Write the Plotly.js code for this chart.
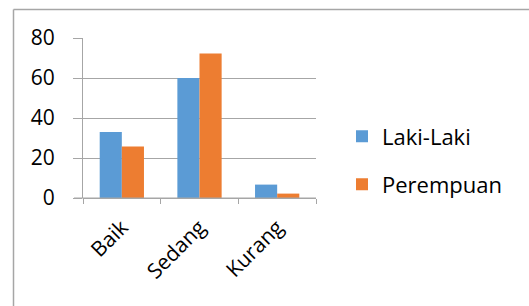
<!DOCTYPE html>
<html>
<head>
<meta charset="utf-8">
<script src="https://cdn.plot.ly/plotly-3.0.1.min.js"></script>
<style>
html,body{margin:0;padding:0;background:#fff;}
#chart{width:529px;height:306px;}
</style>
</head>
<body>
<div id="chart"></div>
<script>
const categories = ["Baik", "Sedang", "Kurang"];
const seriesNames = ["Laki-Laki", "Perempuan"];
const lakiLaki = [33, 60, 6.7];
const perempuan = [25.7, 72.2, 2.2];
const yTicks = [0, 20, 40, 60, 80];

const W = 529, H = 306;
const m = {l: 83, r: 213, t: 38, b: 108};
const pw = W - m.l - m.r, ph = H - m.t - m.b;
const px = v => (v - m.l) / pw;
const py = v => (H - m.b - v) / ph;

const font = "'Open Sans', 'Noto Sans', sans-serif";

const data = [
  {type: "bar", name: seriesNames[0], x: categories, y: lakiLaki, marker: {color: "#5b9bd5"}, legend: "legend"},
  {type: "bar", name: seriesNames[1], x: categories, y: perempuan, marker: {color: "#ed7d31"}, legend: "legend2"}
];

const legendBase = {
  xanchor: "left", yanchor: "middle",
  font: {family: font, size: 22, color: "#000"},
  bgcolor: "rgba(0,0,0,0)"
};

const layout = {
  width: W, height: H,
  margin: m,
  paper_bgcolor: "#fff", plot_bgcolor: "#fff",
  barmode: "group",
  bargap: 0.43,
  bargroupgap: 0,
  showlegend: true,
  font: {family: font, color: "#000"},
  legend: Object.assign({}, legendBase, {x: px(342), y: py(136.5)}),
  legend2: Object.assign({}, legendBase, {x: px(342), y: py(184.5)}),
  xaxis: {
    type: "category",
    tickangle: -45,
    tickfont: {family: font, size: 21, color: "#000"},
    ticks: "outside", tickson: "boundaries", ticklen: 5, tickcolor: "#a6a6a6",
    ticklabelstandoff: 12,
    showline: false, showgrid: false, zeroline: false,
    fixedrange: true
  },
  yaxis: {
    range: [0, 80],
    tickvals: yTicks,
    ticktext: yTicks.map(String),
    tickfont: {family: font, size: 21, color: "#000"},
    ticks: "outside", ticklen: 9, tickcolor: "#a6a6a6",
    ticklabelstandoff: 14,
    showgrid: true, gridcolor: "#a6a6a6", gridwidth: 1,
    showline: true, linecolor: "#a6a6a6", linewidth: 1,
    zeroline: true, zerolinecolor: "#a6a6a6", zerolinewidth: 1,
    fixedrange: true
  },
  shapes: [
    {type: "line", xref: "paper", yref: "paper", x0: px(13.5), x1: px(535), y0: py(9.5), y1: py(9.5),
     line: {color: "#a6a6a6", width: 1.5}},
    {type: "line", xref: "paper", yref: "paper", x0: px(13.5), x1: px(13.5), y0: py(9.5), y1: py(320),
     line: {color: "#a6a6a6", width: 1.5}},
    {type: "line", xref: "paper", yref: "paper", x0: px(74), x1: px(316), y0: 0, y1: 0,
     line: {color: "#a6a6a6", width: 1}}
  ]
};

Plotly.newPlot("chart", data, layout, {displayModeBar: false, staticPlot: true});
</script>
</body>
</html>
